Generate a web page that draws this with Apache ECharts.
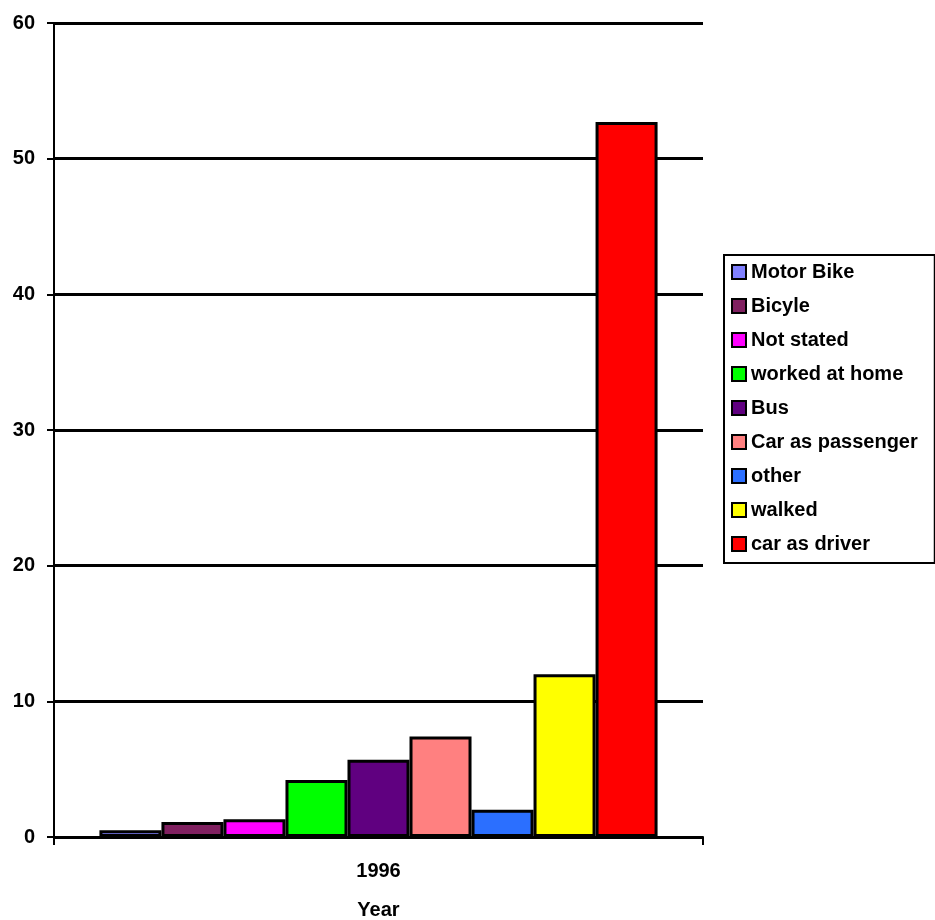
<!DOCTYPE html>
<html>
<head>
<meta charset="utf-8">
<script src="https://cdn.jsdelivr.net/npm/echarts@6/dist/echarts.min.js"></script>
<style>
  html, body { margin: 0; padding: 0; background: #ffffff; }
  #chart { width: 935px; height: 920px; }
</style>
</head>
<body>
<div id="chart"></div>
<script>
// Travel to work, 1996 (percent of journeys by mode)
const years = ['1996'];
const modes = ['Motor Bike', 'Bicyle', 'Not stated', 'worked at home', 'Bus',
               'Car as passenger', 'other', 'walked', 'car as driver'];
const shares = [0.5, 1.1, 1.3, 4.2, 5.7, 7.4, 2.0, 12.0, 52.7];
const modeColors = ['#8080FF', '#802060', '#FF00FF', '#00FF00', '#600080',
                    '#FF8080', '#2B6FFF', '#FFFF00', '#FF0000'];
const yTicks = { min: 0, max: 60, interval: 10 };

const FONT = '"Liberation Sans", Arial, sans-serif';

const series = modes.map((name, i) => ({
  name: name,
  type: 'bar',
  data: [shares[i]],
  barGap: '0%',
  barCategoryGap: '14%',
  itemStyle: { color: modeColors[i], borderColor: '#000', borderWidth: 3 },
  emphasis: { disabled: true },
  animation: false
}));

const chart = echarts.init(document.getElementById('chart'), null, { renderer: 'canvas' });
chart.setOption({
  backgroundColor: '#ffffff',
  animation: false,
  grid: { left: 54, right: 232, top: 23, bottom: 83, containLabel: false, outerBoundsMode: 'none' },
  legend: {
    orient: 'vertical',
    left: 724,
    top: 255,
    padding: [7, 17, 9, 7],
    itemGap: 14,
    itemWidth: 14,
    itemHeight: 14,
    icon: 'rect',
    itemStyle: { borderColor: '#000', borderWidth: 2 },
    borderColor: '#000',
    borderWidth: 2,
    backgroundColor: '#ffffff',
    selectedMode: false,
    textStyle: { fontFamily: FONT, fontWeight: 'bold', fontSize: 20, color: '#000', lineHeight: 20 },
    data: modes
  },
  xAxis: {
    type: 'category',
    data: years,
    name: 'Year',
    nameLocation: 'middle',
    nameGap: 63,
    nameTextStyle: { fontFamily: FONT, fontWeight: 'bold', fontSize: 20, color: '#000' },
    axisLine: { lineStyle: { color: '#000', width: 2 } },
    axisTick: { show: true, length: 8, lineStyle: { color: '#000', width: 2 } },
    axisLabel: { fontFamily: FONT, fontWeight: 'bold', fontSize: 20, color: '#000', margin: 24 },
    splitLine: { show: false }
  },
  yAxis: {
    type: 'value',
    min: yTicks.min,
    max: yTicks.max,
    interval: yTicks.interval,
    axisLine: { show: true, lineStyle: { color: '#000', width: 2 } },
    axisTick: { show: true, length: 7, lineStyle: { color: '#000', width: 2 } },
    axisLabel: { fontFamily: FONT, fontWeight: 'bold', fontSize: 20, color: '#000', margin: 19 },
    splitLine: { show: true, lineStyle: { color: '#000', width: 3 } }
  },
  series: series
});
</script>
</body>
</html>
